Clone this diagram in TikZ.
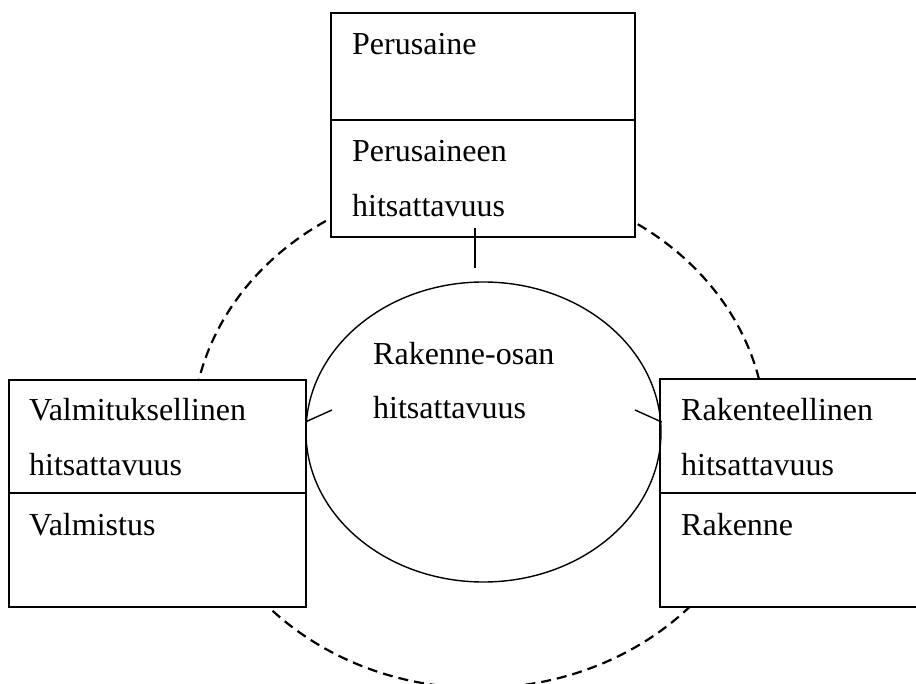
\documentclass[tikz,border=0pt]{standalone}
\usepackage{fontspec}
\newfontfamily\tnr{Liberation Serif}
\usetikzlibrary{shapes.geometric}
\begin{document}
\begin{tikzpicture}[x=1pt,y=-1pt,
  boxline/.style={line width=1.5pt},
  boxpart/.style={boxline,draw,fill=white,rectangle,inner sep=0pt},
  txt/.style={anchor=base west,inner sep=0pt,font=\tnr\fontsize{32}{32}\selectfont},
  dashring/.style={line width=2.2pt,dash pattern=on 10pt off 6pt},
  tick/.style={line width=1.4pt}]
\useasboundingbox (0,0) rectangle (916,684);
% dashed outer ring
\draw[dashring] (479,435) ellipse [x radius=287, y radius=253];
% top box
\node[boxpart,minimum width=304pt,minimum height=107pt] (topA) at (483,66.5) {};
\node[boxpart,minimum width=304pt,minimum height=117pt] (topB) at (483,178.5) {};
% left box
\node[boxpart,minimum width=297pt,minimum height=113pt] (leftA) at (157.5,436.5) {};
\node[boxpart,minimum width=297pt,minimum height=114pt] (leftB) at (157.5,550) {};
% right box (runs off the right edge)
\node[boxpart,minimum width=262pt,minimum height=114pt] (rightA) at (791,436) {};
\node[boxpart,minimum width=262pt,minimum height=114pt] (rightB) at (791,550) {};
% inner ellipse
\node[draw,ellipse,line width=1.4pt,minimum width=355pt,minimum height=300pt,inner sep=0pt] (core) at (483.5,432) {};
% texts
\node[txt] (t1) at (352,55) {Perusaine};
\node[txt] (t2) at (352,162) {Perusaineen};
\node[txt] (t3) at (352,217) {hitsattavuus};
\node[txt] (t4) at (29,421) {Valmituksellinen};
\node[txt] (t5) at (29,475.5) {hitsattavuus};
\node[txt] (t6) at (29,535) {Valmistus};
\node[txt] (t7) at (681,421) {Rakenteellinen};
\node[txt] (t8) at (681,475.5) {hitsattavuus};
\node[txt] (t9) at (681,535) {Rakenne};
\node[txt] (t10) at (373,365) {Rakenne-osan};
\node[txt] (t11) at (373,419) {hitsattavuus};
% ticks
\coordinate (tt) at (475,268);
\coordinate (lt) at (332,410);
\coordinate (rt) at (635,410);
\draw[tick] (475,228) -- (tt);
\draw[tick] (lt) -- (core.west |- 0,422);
\draw[tick] (rt) -- (core.east |- 0,422);
\end{tikzpicture}
\end{document}
